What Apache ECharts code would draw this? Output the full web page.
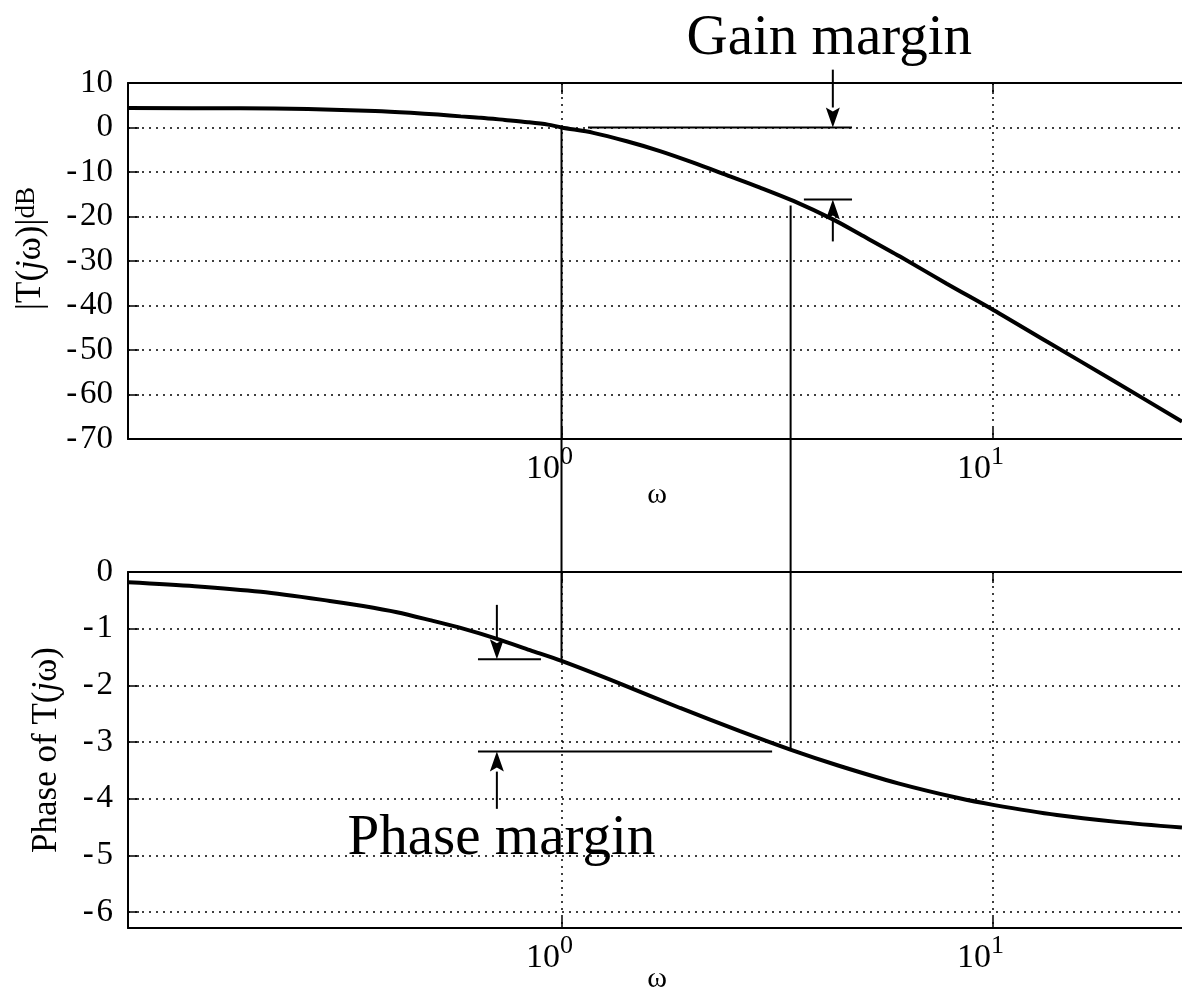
<!DOCTYPE html>
<html>
<head>
<meta charset="utf-8">
<script src="https://cdn.jsdelivr.net/npm/echarts@6/dist/echarts.min.js"></script>
<style>
html,body{margin:0;padding:0;background:#fff;}
#c{width:1182px;height:993px;}
</style>
</head>
<body>
<div id="c"></div>
<script>
// ---- data ----
const omegaMag = [0.0987, 0.18, 0.258, 0.369, 0.447, 0.517, 0.584, 0.65, 0.739, 0.836, 0.93, 1.0, 1.185, 1.417, 1.692, 2.022, 2.417, 2.888, 3.451, 4.273, 4.927, 6.10, 7.83, 10.04, 13.36, 19.07, 27.5];
const magDB    = [4.4, 4.3, 4.15, 3.7, 3.3, 2.9, 2.5, 2.2, 1.7, 1.2, 0.65, 0.0, -1.2, -3.1, -5.3, -7.9, -10.7, -13.5, -16.5, -20.7, -24.0, -29.0, -35.1, -41.0, -48.1, -56.9, -66.1];
const omegaPh  = [0.0987, 0.141, 0.2007, 0.2901, 0.3466, 0.4152, 0.4953, 0.5913, 0.7085, 0.8449, 1.0, 1.367, 1.884, 2.595, 3.408, 4.40, 6.04, 8.33, 10.03, 14.1, 19.4, 27.5];
const phaseRad = [-0.18, -0.25, -0.35, -0.51, -0.60, -0.71, -0.85, -1.00, -1.18, -1.38, -1.57, -1.97, -2.40, -2.81, -3.14, -3.42, -3.73, -3.99, -4.11, -4.29, -4.41, -4.51];
const magTicks = [-70, 10, 10];                      // min, max, step (dB)
const phaseRange = [-6.283185, 0];                   // axis span (rad)
const phaseTickValues = [-6, -5, -4, -3, -2, -1, 0]; // labelled ticks (rad)
const omegaRange = [0.0987, 28.1];                   // visible frequency span
const omegaTickValues = [1, 10];                     // labelled decades

// annotation geometry in data coordinates
const gainLineTop   = [[1.152, 0], [4.72, 0]];
const gainArrowTop  = [[4.26, 13], [4.26, 0]];
const gainLineLow   = [[3.65, -16.2], [4.72, -16.2]];
const gainArrowLow  = [[4.26, -25.6], [4.26, -16.2]];
const phaseLineHigh = [[0.64, -1.54], [0.896, -1.54]];
const phaseArrowHi  = [[0.708, -0.58], [0.708, -1.54]];
const phaseLineLow  = [[0.64, -3.17], [3.08, -3.17]];
const phaseArrowLo  = [[0.708, -4.18], [0.708, -3.17]];
const crossGain     = {omega: 1.0, mag: -0.3, phase: -1.57};
const crossPhase    = {omega: 3.40, mag: -17.5, phase: -3.14};
const gainText  = {text: 'Gain margin',  at: [1.95, 19.8]};
const phaseText = {text: 'Phase margin', at: [0.319, -4.72]};

const FONT = '"Liberation Serif", "Times New Roman", serif';
const chart = echarts.init(document.getElementById('c'), null, {renderer: 'canvas'});

const dotted = {show: true, lineStyle: {color: '#000', width: 1.5, type: [2, 5]}};

function xLabel(v) {
  const l = Math.log10(v), e = Math.round(l);
  if (Math.abs(l - e) > 1e-6 || e < 0) return '';
  return '{b|10}{s|' + e + '}';
}
function yLabel(v) {
  const r = Math.round(v);
  if (Math.abs(v - r) > 1e-6) return '';
  return r < 0 ? '-\u200A' + (-r) : String(r);
}

function xAxisBottom(gi, gap) {
  return {
    type: 'log', logBase: 10, gridIndex: gi, position: 'bottom',
    min: omegaRange[0], max: omegaRange[1],
    name: 'ω', nameLocation: 'middle', nameGap: gap, nameMoveOverlap: false,
    nameTextStyle: {fontFamily: FONT, fontSize: 30, color: '#000'},
    axisLine: {show: true, onZero: false, lineStyle: {color: '#000', width: 2}},
    axisTick: {show: true, inside: true, length: 11, customValues: omegaTickValues,
               lineStyle: {color: '#000', width: 1.5}},
    minorTick: {show: false},
    axisLabel: {
      show: true, margin: 5, formatter: xLabel, padding: [0, 24, 0, 0], customValues: omegaTickValues,
      rich: {
        b: {fontFamily: FONT, fontSize: 34, lineHeight: 50, color: '#000'},
        s: {fontFamily: FONT, fontSize: 26, lineHeight: 22, verticalAlign: 'top', color: '#000'}
      }
    },
    splitLine: dotted
  };
}
function xAxisTop(gi) {
  return {
    type: 'log', logBase: 10, gridIndex: gi, position: 'top',
    min: omegaRange[0], max: omegaRange[1],
    axisLine: {show: true, onZero: false, lineStyle: {color: '#000', width: 2}},
    axisTick: {show: true, inside: true, length: 11, customValues: omegaTickValues,
               lineStyle: {color: '#000', width: 1.5}},
    axisLabel: {show: false, customValues: omegaTickValues}, splitLine: {show: false}
  };
}
function yAxisBase(gi, name, rich, gap, pad) {
  return {
    type: 'value', gridIndex: gi,
    name: name, nameLocation: 'middle', nameRotate: 90, nameGap: gap, nameMoveOverlap: false,
    nameTextStyle: {rich: rich, padding: pad},
    axisLine: {show: true, onZero: false, lineStyle: {color: '#000', width: 2}},
    axisTick: {show: true, inside: true, length: 11, lineStyle: {color: '#000', width: 1.5}},
    axisLabel: {fontFamily: FONT, fontSize: 33, color: '#000', margin: 15, formatter: yLabel},
    splitLine: dotted
  };
}

const magRich = {
  n: {fontFamily: FONT, fontSize: 35, lineHeight: 34, verticalAlign: 'top', color: '#000'},
  i: {fontFamily: FONT, fontSize: 35, lineHeight: 34, verticalAlign: 'top', fontStyle: 'italic', color: '#000'},
  s: {fontFamily: FONT, fontSize: 27, lineHeight: 63, verticalAlign: 'top', color: '#000'}
};
const phRich = {
  n: {fontFamily: FONT, fontSize: 35, lineHeight: 35, color: '#000'},
  i: {fontFamily: FONT, fontSize: 35, lineHeight: 35, fontStyle: 'italic', color: '#000'}
};

const yMag = yAxisBase(0, '{n||T(}{i|j}{n|ω)|}{s|dB}', magRich, 52, [0, 0, 0, 25]);
yMag.min = magTicks[0]; yMag.max = magTicks[1]; yMag.interval = magTicks[2];
const yPh = yAxisBase(1, '{n|Phase of T(}{i|j}{n|ω)}', phRich, 64, 0);
yPh.min = phaseRange[0]; yPh.max = phaseRange[1];
yPh.axisTick.customValues = phaseTickValues;
yPh.axisLabel.customValues = phaseTickValues;

chart.setOption({
  animation: false,
  backgroundColor: '#fff',
  grid: [
    {left: 128, right: -4, top: 83, height: 356, outerBoundsMode: 'none', containLabel: false},
    {left: 128, right: -4, top: 572, height: 356, outerBoundsMode: 'none', containLabel: false}
  ],
  xAxis: [xAxisBottom(0, 41), xAxisTop(0), xAxisBottom(1, 36), xAxisTop(1)],
  yAxis: [yMag, yPh],
  series: [
    {type: 'line', xAxisIndex: 0, yAxisIndex: 0, showSymbol: false, smooth: 0.3,
     lineStyle: {color: '#000', width: 4}, data: omegaMag.map((w, k) => [w, magDB[k]])},
    {type: 'line', xAxisIndex: 2, yAxisIndex: 1, showSymbol: false, smooth: 0.3,
     lineStyle: {color: '#000', width: 4}, data: omegaPh.map((w, k) => [w, phaseRad[k]])}
  ]
});

const P = [{xAxisIndex: 0, yAxisIndex: 0}, {xAxisIndex: 2, yAxisIndex: 1}];
const px = (g, p) => chart.convertToPixel(P[g], p);
const stroke = {stroke: '#000', lineWidth: 2};
const els = [];
function seg(a, b) {
  els.push({type: 'line', silent: true, z: 100, shape: {x1: a[0], y1: a[1], x2: b[0], y2: b[1]}, style: stroke});
}
function hline(g, pts) { seg(px(g, pts[0]), px(g, pts[1])); }
function arrow(g, pts) {
  const a = px(g, pts[0]), b = px(g, pts[1]);
  const dir = Math.sign(b[1] - a[1]);
  const L = 20, W = 7, base = b[1] - dir * L;
  seg(a, [b[0], base]);
  els.push({type: 'polygon', silent: true, z: 100,
    shape: {points: [[b[0], b[1]], [b[0] - W, base], [b[0], base + dir * 4], [b[0] + W, base]]},
    style: {fill: '#000'}});
}
hline(0, gainLineTop); arrow(0, gainArrowTop);
hline(0, gainLineLow); arrow(0, gainArrowLow);
hline(1, phaseLineHigh); arrow(1, phaseArrowHi);
hline(1, phaseLineLow); arrow(1, phaseArrowLo);
[crossGain, crossPhase].forEach(c => seg(px(0, [c.omega, c.mag]), px(1, [c.omega, c.phase])));
[[0, gainText], [1, phaseText]].forEach(([g, t]) => {
  const p = px(g, t.at);
  els.push({type: 'text', silent: true, z: 100, x: p[0], y: p[1],
    style: {text: t.text, fontFamily: FONT, fontSize: 57, fill: '#000',
            align: 'left', verticalAlign: 'middle', textAlign: 'left', textVerticalAlign: 'middle'}});
});
chart.setOption({graphic: {elements: els}});
</script>
</body>
</html>
